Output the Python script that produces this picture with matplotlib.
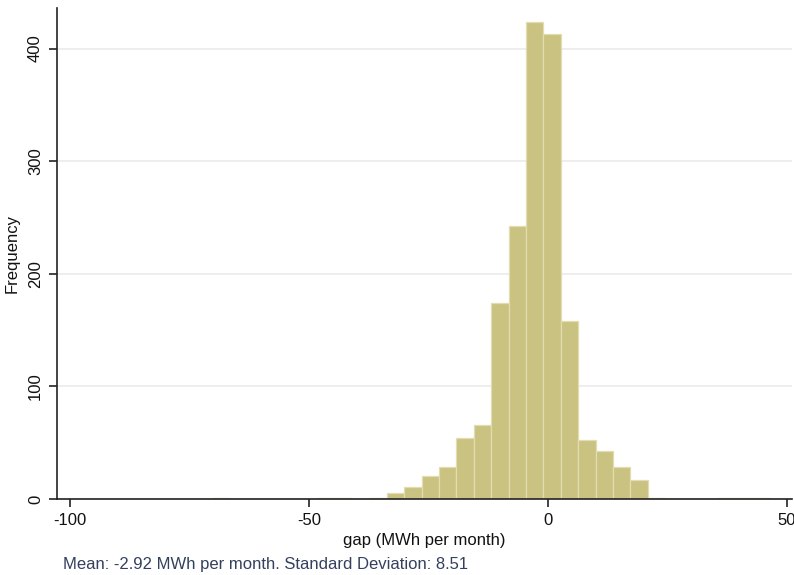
import numpy as np
import matplotlib
matplotlib.use("Agg")
import matplotlib.pyplot as plt

plt.rcParams['font.family'] = ['Liberation Sans', 'DejaVu Sans']

# histogram of gap (MWh per month), 32 equal bins
bin_min = -70.1
bin_max = 46.4
counts = [1, 0, 0, 0, 0, 0, 1, 1, 0, 1,
          5, 11, 20, 28, 54, 66, 174, 242, 424, 413,
          158, 52, 43, 28, 17, 1, 0, 0, 0, 1,
          1, 1]
x_ticks = [-100, -50, 0, 50]
y_ticks = [0, 100, 200, 300, 400]
x_label = "gap (MWh per month)"
y_label = "Frequency"
note = "Mean: -2.92 MWh per month. Standard Deviation: 8.51"

edges = np.linspace(bin_min, bin_max, len(counts) + 1)
width = edges[1] - edges[0]

fig = plt.figure(figsize=(7.94, 5.75), dpi=100)
ax = fig.add_axes([57 / 794, 76 / 575, 735 / 794, 491 / 575])

ax.bar(edges[:-1], counts, width=width, align='edge',
       color='#c9c281', edgecolor='#e2ddb0', linewidth=0.9, zorder=2)

ax.set_xlim(-102.7, 51.1)
ax.set_ylim(0, 436)
ax.set_xticks(x_ticks)
ax.set_yticks(y_ticks)
ax.set_xticklabels([str(t) for t in x_ticks], fontsize=12, color='#111111')
ax.set_yticklabels([str(t) for t in y_ticks], fontsize=12, rotation=90,
                   va='center', color='#111111')
ax.tick_params(axis='both', length=6, width=1.2, color='#222222', pad=4)

ax.yaxis.grid(True, color='#ebebeb', linewidth=1.2, zorder=0)
ax.set_axisbelow(True)
for side in ['top', 'right']:
    ax.spines[side].set_visible(False)
for side in ['left', 'bottom']:
    ax.spines[side].set_color('#222222')
    ax.spines[side].set_linewidth(1.2)

ax.set_xlabel(x_label, fontsize=12, labelpad=4, color='#111111')
ax.set_ylabel(y_label, fontsize=12, labelpad=6, color='#111111')

fig.text(63 / 794, 1 - 564 / 575, note, fontsize=12, color='#34405e',
         ha='left', va='center')

fig.savefig("out.png", dpi=100)
